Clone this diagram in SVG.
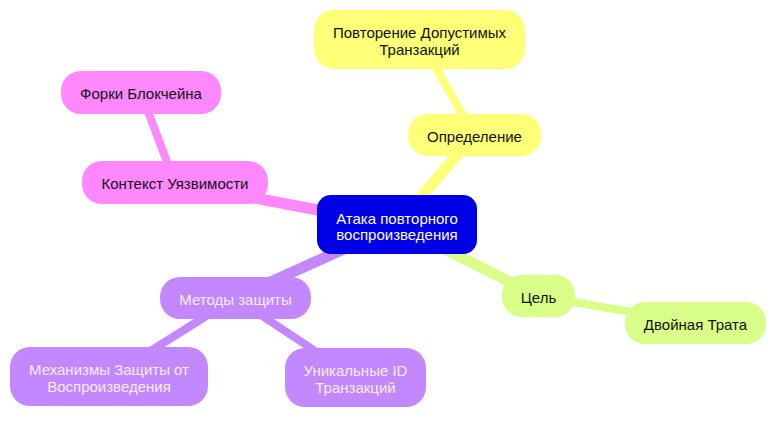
<svg xmlns="http://www.w3.org/2000/svg" width="784" height="422" viewBox="0 0 784 422">
<style>
text{font-family:"Liberation Sans",Arial,sans-serif;font-size:15px;text-anchor:middle}
.e{fill:none;stroke-linecap:butt}
.d0{stroke-width:11}
.d1{stroke-width:8}
.y{fill:#ffff78}.ys{stroke:#ffff78}
.g{fill:#d9ff88}.gs{stroke:#d9ff88}
.p{fill:#c387ff}.ps{stroke:#c387ff}
.k{fill:#ff87ff}.ks{stroke:#ff87ff}
.dk{fill:#111}
.lt{fill:#f6eeff}
</style>
<rect width="784" height="422" fill="#ffffff"/>
<g id="connectors">
<line class="e d0 ys" x1="397" y1="225" x2="474" y2="135"/>
<line class="e d1 ys" x1="474" y1="135" x2="420" y2="40"/>
<line class="e d0 ks" x1="397" y1="225" x2="175" y2="183"/>
<line class="e d1 ks" x1="175" y1="183" x2="141" y2="93"/>
<line class="e d0 ps" x1="397" y1="225" x2="235" y2="298"/>
<line class="e d1 ps" x1="235" y1="298" x2="109" y2="377"/>
<line class="e d1 ps" x1="235" y1="298" x2="356" y2="378"/>
<line class="e d0 gs" x1="397" y1="225" x2="538" y2="296"/>
<line class="e d1 gs" x1="538" y1="296" x2="695" y2="323"/>
</g>
<g id="root">
<rect x="317" y="195" width="160" height="59" rx="14" fill="#0000e6"/>
<text x="397" y="224" fill="#ffffff">Атака повторного</text>
<text x="397" y="240" fill="#ffffff">воспроизведения</text>
</g>
<g id="n-opredelenie">
<rect class="y" x="408" y="114" width="133" height="42" rx="20"/>
<text class="dk" x="474.5" y="141.5">Определение</text>
</g>
<g id="n-povtorenie">
<rect class="y" x="314" y="10" width="211" height="59" rx="20"/>
<text class="dk" x="419.5" y="38">Повторение Допустимых</text>
<text class="dk" x="419.5" y="54.5">Транзакций</text>
</g>
<g id="n-kontekst">
<rect class="k" x="82" y="161" width="186" height="43" rx="20"/>
<text class="dk" x="175" y="189">Контекст Уязвимости</text>
</g>
<g id="n-forki">
<rect class="k" x="61" y="71" width="160" height="43" rx="20"/>
<text class="dk" x="141" y="99">Форки Блокчейна</text>
</g>
<g id="n-metody">
<rect class="p" x="160" y="277" width="151" height="42" rx="20"/>
<text class="lt" x="235.5" y="304.5">Методы защиты</text>
</g>
<g id="n-mehanizmy">
<rect class="p" x="10" y="347" width="198" height="59" rx="20"/>
<text class="lt" x="109" y="375">Механизмы Защиты от</text>
<text class="lt" x="109" y="391.5">Воспроизведения</text>
</g>
<g id="n-unikalnye">
<rect class="p" x="285" y="348" width="141" height="59" rx="20"/>
<text class="lt" x="355.5" y="376">Уникальные ID</text>
<text class="lt" x="355.5" y="392.5">Транзакций</text>
</g>
<g id="n-cel">
<rect class="g" x="502" y="275" width="73" height="42" rx="20"/>
<text class="dk" x="538.5" y="302.5">Цель</text>
</g>
<g id="n-dvoynaya">
<rect class="g" x="625" y="302" width="141" height="42" rx="20"/>
<text class="dk" x="695.5" y="329.5">Двойная Трата</text>
</g>
</svg>
